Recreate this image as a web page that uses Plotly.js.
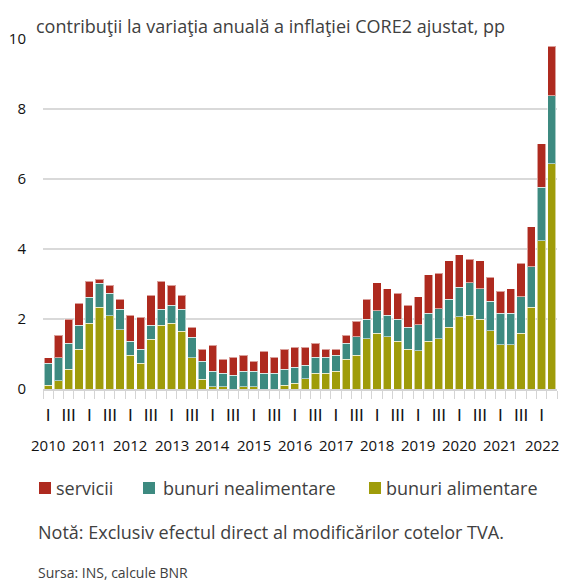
<!DOCTYPE html>
<html>
<head>
<meta charset="utf-8">
<script src="https://cdn.plot.ly/plotly-3.0.1.min.js"></script>
<style>
html,body{margin:0;padding:0;background:#fff;}
#chart{width:561px;height:581px;}
</style>
</head>
<body>
<div id="chart"></div>
<script>
// ---- data (quarterly, 2010 Q1 .. 2022 Q2) ----
const years = [2010,2011,2012,2013,2014,2015,2016,2017,2018,2019,2020,2021,2022];
const quarterLabels = ["I","","III",""];
const quarters = [];
years.forEach(y => { for (let q = 1; q <= 4; q++) { if (y === 2022 && q > 2) break; quarters.push(y + "Q" + q); } });

const bunuriAlimentare = [0.11,0.23,0.57,1.13,1.88,2.33,2.10,1.70,0.96,0.73,
  1.42,1.82,1.88,1.65,0.90,0.28,0.06,0.06,0.00,0.06,
  0.06,0.00,0.00,0.11,0.17,0.29,0.45,0.45,0.51,0.85,
  0.97,1.43,1.60,1.49,1.37,1.14,1.09,1.37,1.43,1.77,
  2.06,2.11,2.00,1.66,1.26,1.26,1.60,2.34,4.23,6.44];
const bunuriNealimentare = [0.62,0.67,0.74,0.69,0.74,0.69,0.63,0.58,0.40,0.40,
  0.40,0.46,0.51,0.63,0.58,0.51,0.45,0.39,0.39,0.45,
  0.45,0.45,0.45,0.45,0.45,0.39,0.46,0.46,0.45,0.46,
  0.52,0.57,0.63,0.62,0.63,0.63,0.74,0.80,0.86,0.80,
  0.85,0.92,0.86,0.85,0.91,0.91,1.03,1.15,1.54,1.94];
const servicii = [0.17,0.63,0.68,0.63,0.46,0.11,0.23,0.28,0.75,0.92,
  0.86,0.80,0.57,0.40,0.28,0.34,0.74,0.40,0.52,0.45,
  0.28,0.63,0.46,0.57,0.57,0.51,0.40,0.22,0.17,0.22,
  0.45,0.57,0.80,0.75,0.74,0.63,0.80,1.09,1.02,1.09,
  0.92,0.68,0.80,0.69,0.63,0.69,0.97,1.14,1.24,1.41];

const seriesNames = ["servicii","bunuri nealimentare","bunuri alimentare"];
const yTickVals = [0,2,4,6,8,10];
const titleText = "contribuţii la variaţia anuală a inflaţiei CORE2 ajustat, pp";
const noteText = "Notă: Exclusiv efectul direct al modificărilor cotelor TVA.";
const sourceText = "Sursa: INS, calcule BNR";

// ---- styling ----
const colors = {serv:"#ae2a1f", nealim:"#3d8a80", alim:"#9f9c0a"};
const W = 561, H = 581;
const M = {l:43, r:4, t:39, b:192};
const PW = W - M.l - M.r, PH = H - M.t - M.b;
const px = X => (X - M.l) / PW;
const py = Y => (H - M.b - Y) / PH;
const FONT = "Open Sans, sans-serif";

const lineStyle = {color:"rgba(255,255,255,0.55)", width:1};
const traces = [
  {type:"bar", name:seriesNames[2], x:quarters, y:bunuriAlimentare, marker:{color:colors.alim, line:lineStyle}, showlegend:false, hoverinfo:"y+name"},
  {type:"bar", name:seriesNames[1], x:quarters, y:bunuriNealimentare, marker:{color:colors.nealim, line:lineStyle}, showlegend:false, hoverinfo:"y+name"},
  {type:"bar", name:seriesNames[0], x:quarters, y:servicii, marker:{color:colors.serv, line:lineStyle}, showlegend:false, hoverinfo:"y+name"}
];

const tickText = quarters.map((q,i) => quarterLabels[i % 4]);

const annotations = [];
years.forEach(y => {
  annotations.push({xref:"x", yref:"paper", x: y + "Q1", y: 0, yanchor:"middle", xanchor:"center",
    yshift:-56, text:String(y), showarrow:false, font:{family:FONT, size:15, color:"#111"}});
});
// legend (manual, to match spacing)
const legendItems = [
  {name:seriesNames[0], color:colors.serv, sx:39, tx:54},
  {name:seriesNames[1], color:colors.nealim, sx:143, tx:161},
  {name:seriesNames[2], color:colors.alim, sx:369, tx:384}
];
const shapes = [];
legendItems.forEach(it => {
  shapes.push({type:"rect", xref:"paper", yref:"paper", x0:px(it.sx), x1:px(it.sx+12), y0:py(482), y1:py(494),
    fillcolor:it.color, line:{width:0}});
  annotations.push({xref:"paper", yref:"paper", x:px(it.tx), y:py(488), xanchor:"left", yanchor:"middle",
    text:it.name, showarrow:false, font:{family:FONT, size:18, color:"#404040"}});
});
annotations.push({xref:"paper", yref:"paper", x:px(36), y:py(532), xanchor:"left", yanchor:"middle",
  text:noteText, showarrow:false, font:{family:FONT, size:18, color:"#404040"}});
annotations.push({xref:"paper", yref:"paper", x:px(36), y:py(572), xanchor:"left", yanchor:"middle",
  text:sourceText, showarrow:false, font:{family:FONT, size:14, color:"#404040"}});

const layout = {
  width:W, height:H,
  margin:M,
  paper_bgcolor:"#fff", plot_bgcolor:"#fff",
  barmode:"stack", bargap:0.2,
  title:{text:titleText, xref:"container", yref:"container", x:36/W, xanchor:"left", y:1-27/H, yanchor:"middle",
    font:{family:FONT, size:18, color:"#404040"}},
  xaxis:{type:"category", range:[-0.5, quarters.length - 0.5], autorange:false,
    tickson:"boundaries", tickmode:"array", tickvals:quarters, ticktext:tickText, tickangle:0,
    ticks:"outside", ticklen:8, tickwidth:1, tickcolor:"#d4d4d4",
    showline:true, linecolor:"#d4d4d4", linewidth:2, showgrid:false, zeroline:false, automargin:false,
    tickfont:{family:"DejaVu Sans, sans-serif", size:16, color:"#111"}, ticklabelstandoff:11, fixedrange:true},
  yaxis:{range:[0,10], autorange:false, tickvals:yTickVals, showgrid:true, gridcolor:"#d9d9d9", gridwidth:2, zeroline:false,
    showline:false, ticks:"", automargin:false, tickfont:{family:FONT, size:15, color:"#111"}, ticklabelstandoff:16, fixedrange:true},
  annotations:annotations,
  shapes:shapes,
  showlegend:false
};

Plotly.newPlot("chart", traces, layout, {displayModeBar:false, staticPlot:true});
</script>
</body>
</html>
